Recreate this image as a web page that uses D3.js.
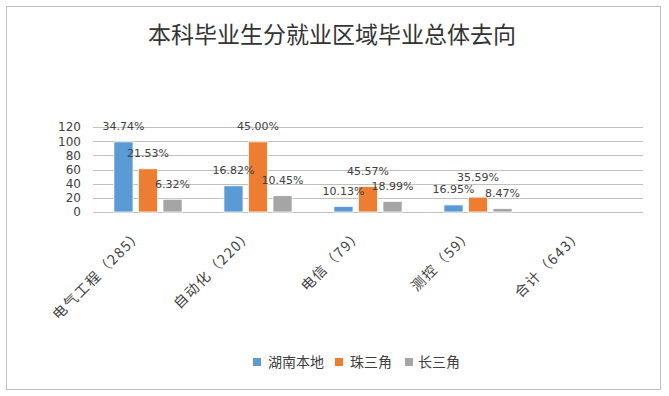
<!DOCTYPE html>
<html>
<head>
<meta charset="utf-8">
<script src="https://cdn.jsdelivr.net/npm/d3@7"></script>
<style>
  body { margin: 0; background: #fff; }
  svg { display: block; font-family: "Noto Sans CJK SC", "DejaVu Sans", sans-serif; }
</style>
</head>
<body>
<div id="chart"></div>
<script>
const categories = ['电气工程（285）', '自动化（220）', '电信（79）', '测控（59）', '合计（643）'];
const seriesNames = ['湖南本地', '珠三角', '长三角'];
const hunan = [99, 37, 8, 10, null];
const zhusanjiao = [61, 99, 36, 21, null];
const changsanjiao = [18, 23, 15, 5, null];
const hunanPct = ['34.74%', '16.82%', '10.13%', '16.95%', null];
const zhuPct = ['21.53%', '45.00%', '45.57%', '35.59%', null];
const changPct = ['6.32%', '10.45%', '18.99%', '8.47%', null];
const yTicks = [0, 20, 40, 60, 80, 100, 120];
const colors = ['#5B9BD5', '#ED7D31', '#A5A5A5'];

const width = 669, height = 396;
const margin = { top: 127, right: 26, bottom: 184, left: 93 };
const innerW = width - margin.left - margin.right;
const innerH = height - margin.top - margin.bottom;
const cjk = '"Noto Sans CJK SC", sans-serif';
const latin = '"DejaVu Sans", sans-serif';

const series = [hunan, zhusanjiao, changsanjiao];
const pcts = [hunanPct, zhuPct, changPct];

const svg = d3.select('#chart').append('svg')
  .attr('width', width).attr('height', height);

// 外枠
svg.append('rect')
  .attr('x', 6.5).attr('y', 6.5)
  .attr('width', 654).attr('height', 383)
  .attr('fill', '#fff').attr('stroke', '#bfbfbf').attr('stroke-width', 1);

// タイトル
svg.append('text')
  .attr('x', 332).attr('y', 43)
  .attr('text-anchor', 'middle')
  .attr('font-size', 23)
  .attr('font-family', cjk)
  .attr('fill', '#333')
  .text('本科毕业生分就业区域毕业总体去向');

const g = svg.append('g').attr('transform', `translate(${margin.left},${margin.top})`);

const x0 = d3.scaleBand().domain(categories).range([0, innerW]).paddingInner(0.38).paddingOuter(0.19);
const x1 = d3.scaleBand().domain(seriesNames).range([0, x0.bandwidth()]).paddingInner(0.22);
const y = d3.scaleLinear().domain([0, 120]).range([innerH, 0]);

// グリッド
g.append('g').selectAll('line').data(yTicks).join('line')
  .attr('x1', 0).attr('x2', innerW)
  .attr('y1', d => Math.round(y(d)) + 0.5).attr('y2', d => Math.round(y(d)) + 0.5)
  .attr('stroke', '#c0c0c0').attr('stroke-width', 1);

// Y軸
const yAxis = g.append('g').call(d3.axisLeft(y).tickValues(yTicks).tickSize(0).tickPadding(12));
yAxis.select('.domain').remove();
yAxis.selectAll('text').attr('font-size', 12).attr('fill', '#404040')
  .attr('font-family', latin);

// 棒
const labelG = g.append('g');
series.forEach((vals, si) => {
  const rows = categories.map((c, i) => ({ c, v: vals[i], p: pcts[si][i] })).filter(d => d.v != null);
  g.insert('g', () => labelG.node()).selectAll('rect').data(rows).join('rect')
    .attr('x', d => x0(d.c) + x1(seriesNames[si]))
    .attr('y', d => y(d.v))
    .attr('width', x1.bandwidth())
    .attr('height', d => innerH - y(d.v))
    .attr('fill', colors[si])
    .attr('stroke', '#fff').attr('stroke-width', 0.8);
});

// データラベル(重なりは上へずらす)
const placed = [];
categories.forEach((c, ci) => {
  series.forEach((vals, si) => {
    if (vals[ci] == null) return;
    const cx = x0(c) + x1(seriesNames[si]) + x1.bandwidth() / 2;
    let by = y(vals[ci]) - 11.5;
    const t = labelG.append('text')
      .attr('x', cx)
      .attr('text-anchor', 'middle')
      .attr('font-size', 11)
      .attr('font-family', latin)
      .attr('fill', '#404040')
      .text(pcts[si][ci]);
    const w = t.node().getComputedTextLength();
    const box = () => ({ x0: cx - w / 2, x1: cx + w / 2, y0: by - 10, y1: by + 2 });
    let moved = true;
    while (moved) {
      moved = false;
      const b = box();
      for (const p of placed) {
        const ox = Math.min(b.x1, p.x1) - Math.max(b.x0, p.x0);
        const oy = Math.min(b.y1, p.y1) - Math.max(b.y0, p.y0);
        if (ox > 4 && oy > 0) { by -= oy; moved = true; }
      }
    }
    t.attr('y', by);
    placed.push(box());
  });
});

// X軸ラベル
const xAxis = g.append('g').attr('transform', `translate(0,${innerH})`)
  .call(d3.axisBottom(x0).tickSize(0).tickPadding(0));
xAxis.select('.domain').remove();
xAxis.selectAll('text')
  .attr('font-size', 14).attr('fill', '#404040')
  .attr('font-family', cjk)
  .attr('letter-spacing', 1.5)
  .attr('text-anchor', 'end')
  .attr('dy', 0)
  .attr('transform', 'translate(-4,23) rotate(-45)');

// 凡例
const legendItems = [
  { name: seriesNames[0], x: 253, tx: 268 },
  { name: seriesNames[1], x: 335, tx: 350 },
  { name: seriesNames[2], x: 405, tx: 418 }
];
const legend = svg.append('g');
legendItems.forEach((d, i) => {
  legend.append('rect')
    .attr('x', d.x).attr('y', 358)
    .attr('width', 8).attr('height', 8)
    .attr('fill', colors[i]);
  legend.append('text')
    .attr('x', d.tx).attr('y', 367)
    .attr('font-size', 14).attr('fill', '#404040')
    .attr('font-family', cjk)
    .text(d.name);
});
</script>
</body>
</html>
